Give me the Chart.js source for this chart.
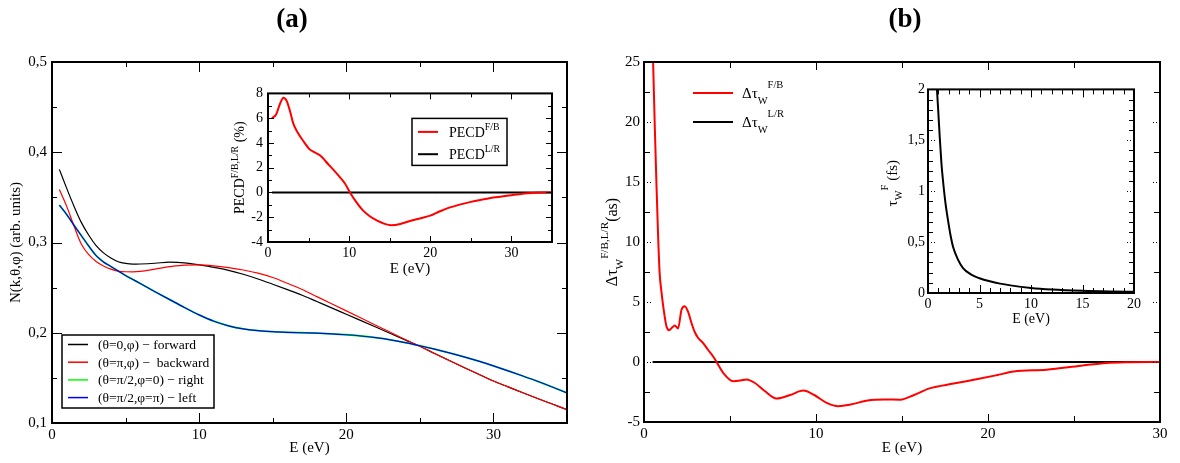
<!DOCTYPE html>
<html>
<head>
<meta charset="utf-8">
<script src="https://cdn.jsdelivr.net/npm/chart.js@4.4.1/dist/chart.umd.min.js"></script>
<style>
body { margin: 0; background: #fff; }
#wrap { position: relative; width: 1180px; height: 463px; background: #fff; }
canvas { position: absolute; }
</style>
</head>
<body>
<div id="wrap">
<canvas id="mainA" width="590" height="463" style="left:0;top:0"></canvas>
<canvas id="mainB" width="590" height="463" style="left:590px;top:0"></canvas>
<canvas id="insetA" width="340" height="205" style="left:230px;top:80px"></canvas>
<canvas id="insetB" width="272" height="250" style="left:880px;top:78px"></canvas>
</div>
<script>
// ---- data, panel (a) ----
const energyA = [0.5,1,1.5,2,2.5,3,3.5,4,4.5,5,5.5,6,7,8,9,10,11,12,13,14,15,16,17,18,19,20,21,22,23,24,25,26,27,28,29,30,31,32,33,34,35];
const forward = [0.381,0.360,0.340,0.322,0.308,0.2965,0.2885,0.2828,0.2787,0.2768,0.276,0.2762,0.277,0.2782,0.2775,0.2752,0.2725,0.2692,0.2648,0.2596,0.2538,0.2478,0.2416,0.2346,0.2276,0.2205,0.2134,0.2063,0.1992,0.1921,0.1850,0.1770,0.1692,0.1615,0.1540,0.1465,0.1400,0.1335,0.1272,0.1210,0.1148];
const backward = [0.3588,0.340,0.318,0.298,0.2865,0.279,0.274,0.2705,0.2683,0.2676,0.2675,0.268,0.2705,0.2732,0.275,0.2752,0.2742,0.2722,0.2695,0.266,0.2612,0.2548,0.2479,0.2400,0.2321,0.2242,0.2163,0.2084,0.2005,0.1926,0.1850,0.1770,0.1692,0.1615,0.1540,0.1465,0.1400,0.1335,0.1272,0.1210,0.1148];
const right = [0.3414,0.331,0.319,0.3075,0.296,0.2855,0.2785,0.2735,0.2685,0.2635,0.259,0.2545,0.2455,0.2367,0.228,0.2198,0.2128,0.2077,0.2043,0.2023,0.2012,0.2005,0.2000,0.1995,0.1988,0.1978,0.1964,0.1945,0.1921,0.1891,0.1856,0.1818,0.1777,0.1733,0.1685,0.1633,0.1578,0.1521,0.1462,0.1399,0.1333];
const left = right.slice();

// inset (a): PECD
const pecdE = [0.5,1,1.5,1.9,2.3,2.7,3.1,3.6,4.3,5.1,5.7,6.4,7.4,8.9,9.5,10.1,10.8,11.7,12.5,13.4,14.3,15.2,16.3,17.5,18.8,20,21,22,23,24,25,26,27,28,29,30,31,32,33,34,35];
const pecdFB = [6.0,6.3,7.2,7.65,7.4,6.6,5.6,4.9,4.2,3.5,3.25,3.0,2.3,1.2,0.7,0,-0.7,-1.45,-1.9,-2.26,-2.52,-2.65,-2.55,-2.3,-2.08,-1.87,-1.58,-1.3,-1.1,-0.92,-0.76,-0.62,-0.5,-0.39,-0.3,-0.22,-0.14,-0.07,-0.02,0,0];
const pecdLRE = [0.5,35];
const pecdLR = [0,0];

// ---- data, panel (b) ----
const delayE = [0.53,0.62,0.72,0.82,0.91,1.01,1.15,1.3,1.46,1.62,1.79,1.98,2.18,2.37,2.56,2.76,2.95,3.15,3.45,3.73,4.0,4.22,4.6,5.18,5.6,5.96,6.45,7.0,7.71,8.5,9.26,9.9,10.62,11.3,12,13,14,14.9,15.7,16.6,18,19.4,20.5,21.5,23.4,25.4,26.9,28,30];
const delayFB = [25,20,15,10.5,7.4,5.9,4.3,3.0,2.65,2.85,3.05,2.8,4.35,4.65,4.2,3.25,2.5,2.0,1.55,1.0,0.5,0,-0.9,-1.6,-1.55,-1.45,-1.75,-2.4,-3.05,-2.75,-2.38,-2.75,-3.4,-3.68,-3.55,-3.2,-3.12,-3.14,-2.75,-2.2,-1.8,-1.42,-1.1,-0.8,-0.64,-0.31,-0.08,-0.02,0];
const delayLRE = [0.5,30];
const delayLR = [0,0];

// inset (b): Wigner time forward
const tauE = [0.87,1.0,1.14,1.3,1.46,1.7,1.94,2.2,2.43,2.9,3.4,4.2,5,6,7,8,10,12,15,18,20];
const tauF = [2.0,1.78,1.53,1.28,1.1,0.88,0.715,0.56,0.455,0.33,0.245,0.18,0.145,0.115,0.092,0.075,0.05,0.035,0.022,0.015,0.012];

// ---- ticks ----
const xMajorA = [0,10,20,30], xMinorA = [5,15,25];
const yMajorA = [0.1,0.2,0.3,0.4,0.5], yMinorA = [0.15,0.25,0.35,0.45];
const xMajorIA = [0,10,20,30], xMinorIA = [5,15,25];
const yMajorIA = [-4,-2,0,2,4,6,8], yMinorIA = [-3,-1,1,3,5,7];
const xMajorB = [0,10,20,30], xMinorB = [5,15,25];
const yMajorB = [-5,0,5,10,15,20,25], yMinorB = [-2.5,2.5,7.5,12.5,17.5,22.5];
const xMajorIB = [0,5,10,15,20], xMinorIB = [1,2,3,4,6,7,8,9,11,12,13,14,16,17,18,19];
const yMajorIB = [0,0.5,1,1.5,2], yMinorIB = [0.1,0.2,0.3,0.4,0.6,0.7,0.8,0.9,1.1,1.2,1.3,1.4,1.6,1.7,1.8,1.9];

// ---- text ----
const xTitle = 'E (eV)';
const yTitleA = [{t: 'N(k,θ,φ) (arb. units)'}];
const yTitleIA = [{t: 'PECD'}, {t: 'F/B,L/R', s: 'sup'}, {t: ' (%)'}];
const yTitleB = [{t: 'Δτ'}, {t: 'W', s: 'sub'}, {t: 'F/B,L/R', s: 'sup'}, {t: '(as)'}];
const yTitleIB = [{t: 'τ'}, {t: 'W', s: 'sub'}, {t: 'F', s: 'sup'}, {t: ' (fs)'}];
const legendA = ['(θ=0,φ) − forward', '(θ=π,φ) −  backward', '(θ=π/2,φ=0) − right', '(θ=π/2,φ=π) − left'];
const legendIA = [[{t: 'PECD'}, {t: 'F/B', s: 'sup'}], [{t: 'PECD'}, {t: 'L/R', s: 'sup'}]];
const legendB = [[{t: 'Δτ'}, {t: 'W', s: 'sub'}, {t: 'F/B', s: 'sup'}], [{t: 'Δτ'}, {t: 'W', s: 'sub'}, {t: 'L/R', s: 'sup'}]];

const SERIF = '"Liberation Serif", "Times New Roman", serif';
const colA = ['#000000', '#ff0000', '#00ff00', '#0000ff'];

function pts(xs, ys) { return xs.map((x, i) => ({x: x, y: ys[i]})); }

function drawRich(ctx, parts, x, y, size, align, off) {
  const small = size * 0.7;
  const font = p => (p.s ? small : size) + 'px ' + SERIF;
  let w = 0;
  parts.forEach(p => { ctx.font = font(p); w += ctx.measureText(p.t).width; });
  let cx = align === 'center' ? x - w / 2 : x;
  ctx.textAlign = 'left';
  ctx.textBaseline = 'alphabetic';
  ctx.fillStyle = '#000';
  parts.forEach(p => {
    ctx.font = font(p);
    let dy = 0;
    if (p.s === 'sup') dy = -(off ? off.sup : 0.42) * size;
    if (p.s === 'sub') dy = (off ? off.sub : 0.25) * size;
    ctx.fillText(p.t, cx, y + dy);
    cx += ctx.measureText(p.t).width;
  });
}

function drawRotated(ctx, parts, x, y, size, off) {
  ctx.save();
  ctx.translate(x, y);
  ctx.rotate(-Math.PI / 2);
  drawRich(ctx, parts, 0, 0, size, 'center', off);
  ctx.restore();
}

// inward ticks on all four sides plus the frame
const frameTicks = {
  id: 'frameTicks',
  beforeDraw(chart, args, o) {
    if (!o.fill) return;
    const a = chart.chartArea;
    chart.ctx.save();
    chart.ctx.fillStyle = '#fff';
    chart.ctx.fillRect(a.left, a.top, a.right - a.left, a.bottom - a.top);
    chart.ctx.restore();
  },
  afterDatasetsDraw(chart, args, o) {
    const ctx = chart.ctx, a = chart.chartArea, sx = chart.scales.x, sy = chart.scales.y;
    ctx.save();
    ctx.strokeStyle = '#000';
    ctx.lineWidth = 1;
    const seg = (x1, y1, x2, y2, dot) => {
      ctx.setLineDash(dot ? [1, 2] : []);
      ctx.beginPath(); ctx.moveTo(x1, y1); ctx.lineTo(x2, y2); ctx.stroke();
    };
    const doX = (vals, len, dot) => vals.forEach(v => {
      const p = Math.round(sx.getPixelForValue(v)) + 0.5;
      seg(p, a.bottom, p, a.bottom - len, dot);
      seg(p, a.top, p, a.top + len, dot);
    });
    const doY = (vals, len, dot) => vals.forEach(v => {
      const p = Math.round(sy.getPixelForValue(v)) + 0.5;
      seg(a.left, p, a.left + len, p, dot);
      seg(a.right, p, a.right - len, p, dot);
    });
    doX(o.x.minor, o.minorLen, false);
    doX(o.x.major, o.majorLen, o.x.dotted);
    doY(o.y.minor, o.minorLen, false);
    doY(o.y.major, o.majorLen, o.y.dotted);
    ctx.setLineDash([]);
    ctx.lineWidth = 2;
    ctx.strokeRect(a.left, a.top, a.right - a.left, a.bottom - a.top);
    ctx.restore();
  }
};

function scale(min, max, majors, pad, size, extent, isX) {
  return {
    type: 'linear', min: min, max: max,
    grid: {display: false, drawTicks: false},
    border: {display: false},
    ticks: {
      autoSkip: false, padding: pad, color: '#000', maxRotation: 0,
      font: {family: SERIF, size: size},
      callback: v => String(v).replace('.', ',')
    },
    afterBuildTicks: s => { s.ticks = majors.map(v => ({value: v})); },
    afterFit: s => { if (isX) s.height = extent; else s.width = extent; }
  };
}

function line(data, color, width, order) {
  return {data: data, borderColor: color, borderWidth: width, order: order, pointRadius: 0, fill: false,
          cubicInterpolationMode: 'monotone'};
}

function baseOptions(padding, xs, ys, ticks, extraPlugins) {
  return {
    responsive: false, animation: false,
    layout: {padding: padding},
    scales: {x: xs, y: ys},
    plugins: Object.assign({legend: {display: false}, tooltip: {enabled: false}, frameTicks: ticks}, extraPlugins || {})
  };
}

// ---- panel (a) main ----
new Chart(document.getElementById('mainA'), {
  type: 'line',
  data: {datasets: [
    line(pts(energyA, left), colA[3], 1.2, 0),
    line(pts(energyA, backward), colA[1], 1.2, 1),
    line(pts(energyA, right), colA[2], 1.8, 2),
    line(pts(energyA, forward), colA[0], 1.2, 3)
  ]},
  options: baseOptions({top: 62, right: 23, left: 0, bottom: 0},
    scale(0, 35, xMajorA, 3, 15, 40, true),
    scale(0.1, 0.5, yMajorA, 5, 15, 52, false),
    {x: {major: xMajorA, minor: xMinorA}, y: {major: yMajorA, minor: yMinorA}, majorLen: 10, minorLen: 5}),
  plugins: [frameTicks, {
    id: 'textA',
    afterDraw(chart) {
      const ctx = chart.ctx, a = chart.chartArea;
      ctx.save();
      ctx.font = 'bold 27px ' + SERIF;
      ctx.textAlign = 'center'; ctx.textBaseline = 'alphabetic'; ctx.fillStyle = '#000';
      ctx.fillText('(a)', 292, 27);
      drawRich(ctx, [{t: xTitle}], (a.left + a.right) / 2, a.bottom + 29, 15, 'center');
      drawRotated(ctx, yTitleA, a.left - 32, (a.top + a.bottom) / 2, 15);
      // legend box
      const bx = a.left + 10, by = a.bottom - 88;
      ctx.lineWidth = 1.5; ctx.strokeStyle = '#000';
      ctx.strokeRect(bx, by, 152, 73);
      legendA.forEach((txt, i) => {
        const yy = by + 9.5 + i * 17.7;
        ctx.strokeStyle = colA[i]; ctx.lineWidth = 1.5;
        ctx.beginPath(); ctx.moveTo(bx + 6, yy); ctx.lineTo(bx + 26, yy); ctx.stroke();
        drawRich(ctx, [{t: txt}], bx + 36, yy + 4.5, 13.5, 'left');
      });
      ctx.restore();
    }
  }]
});

// ---- panel (a) inset ----
new Chart(document.getElementById('insetA'), {
  type: 'line',
  data: {datasets: [
    line(pts(pecdE, pecdFB), '#ff0000', 2, 0),
    line(pts(pecdLRE, pecdLR), '#000000', 2, 1)
  ]},
  options: baseOptions({top: 8, right: 18, left: 0, bottom: 0},
    scale(0, 35, xMajorIA, 3, 14, 43, true),
    scale(-4, 8, yMajorIA, 5, 14, 38, false),
    {x: {major: xMajorIA, minor: xMinorIA}, y: {major: yMajorIA, minor: yMinorIA}, majorLen: 6, minorLen: 4, fill: true}),
  plugins: [frameTicks, {
    id: 'textIA',
    afterDraw(chart) {
      const ctx = chart.ctx, a = chart.chartArea;
      ctx.save();
      drawRich(ctx, [{t: xTitle}], (a.left + a.right) / 2, a.bottom + 31, 15, 'center');
      drawRotated(ctx, yTitleIA, a.left - 24, (a.top + a.bottom) / 2, 14);
      const bx = a.left + 144, by = a.top + 25;
      ctx.lineWidth = 1.5; ctx.strokeStyle = '#000';
      ctx.strokeRect(bx, by, 95, 47);
      ['#ff0000', '#000000'].forEach((c, i) => {
        const yy = by + 13.5 + i * 22.3;
        ctx.strokeStyle = c; ctx.lineWidth = 2;
        ctx.beginPath(); ctx.moveTo(bx + 6, yy); ctx.lineTo(bx + 26, yy); ctx.stroke();
        drawRich(ctx, legendIA[i], bx + 37, yy + 5, 14, 'left', {sup: 0.5, sub: 0.25});
      });
      ctx.restore();
    }
  }]
});

// ---- panel (b) main ----
new Chart(document.getElementById('mainB'), {
  type: 'line',
  data: {datasets: [
    line(pts(delayE, delayFB), '#ff0000', 2, 0),
    line(pts(delayLRE, delayLR), '#000000', 2, 1)
  ]},
  options: baseOptions({top: 62, right: 20, left: 0, bottom: 0},
    scale(0, 30, xMajorB, 3, 15, 41, true),
    scale(-5, 25, yMajorB, 4, 15, 54, false),
    {x: {major: xMajorB, minor: xMinorB}, y: {major: yMajorB, minor: yMinorB, dotted: true}, majorLen: 8, minorLen: 6}),
  plugins: [frameTicks, {
    id: 'textB',
    afterDraw(chart) {
      const ctx = chart.ctx, a = chart.chartArea;
      ctx.save();
      ctx.font = 'bold 27px ' + SERIF;
      ctx.textAlign = 'center'; ctx.textBaseline = 'alphabetic'; ctx.fillStyle = '#000';
      ctx.fillText('(b)', 315, 27);
      drawRich(ctx, [{t: xTitle}], (a.left + a.right) / 2, a.bottom + 30, 15, 'center');
      drawRotated(ctx, yTitleB, a.left - 27, (a.top + a.bottom) / 2, 16, {sup: 0.55, sub: 0.35});
      ['#ff0000', '#000000'].forEach((c, i) => {
        const yy = a.top + 31 + i * 29;
        ctx.strokeStyle = c; ctx.lineWidth = 2;
        ctx.beginPath(); ctx.moveTo(a.left + 49, yy); ctx.lineTo(a.left + 89, yy); ctx.stroke();
        drawRich(ctx, legendB[i], a.left + 98, yy + 5, 15, 'left', {sup: 0.68, sub: 0.4});
      });
      ctx.restore();
    }
  }]
});

// ---- panel (b) inset ----
new Chart(document.getElementById('insetB'), {
  type: 'line',
  data: {datasets: [
    line(pts(tauE, tauF), '#000000', 2, 0)
  ]},
  options: baseOptions({top: 10, right: 18, left: 0, bottom: 0},
    scale(0, 20, xMajorIB, 3, 14, 35, true),
    scale(0, 2, yMajorIB, 3, 14, 48, false),
    {x: {major: xMajorIB, minor: xMinorIB}, y: {major: yMajorIB, minor: yMinorIB, dotted: true}, majorLen: 8, minorLen: 5, fill: true}),
  plugins: [frameTicks, {
    id: 'textIB',
    afterDraw(chart) {
      const ctx = chart.ctx, a = chart.chartArea;
      ctx.save();
      drawRich(ctx, [{t: xTitle}], (a.left + a.right) / 2, a.bottom + 30, 14, 'center');
      drawRotated(ctx, yTitleIB, a.left - 31, (a.top + a.bottom) / 2 - 8, 15, {sup: 0.6, sub: 0.3});
      ctx.restore();
    }
  }]
});
</script>
</body>
</html>
